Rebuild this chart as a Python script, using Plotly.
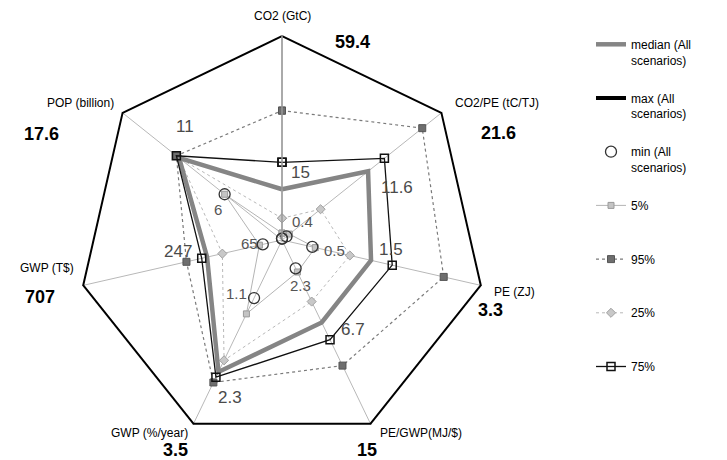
import plotly.graph_objects as go

# ---------------- data ----------------
categories = ["CO2 (GtC)", "CO2/PE (tC/TJ)", "PE (ZJ)", "PE/GWP(MJ/$)",
              "GWP (%/year)", "GWP (T$)", "POP (billion)"]
max_vals = [59.4, 21.6, 3.3, 15, 3.5, 707, 17.6]
median_vals = [14.7, 11.6, 1.47, 6.7, 2.5, 265, 11.3]
min_vals = [0.4, 0.6, 0.5, 2.3, 1.1, 68, 6.3]
p5_vals = [2.0, 1.0, 0.55, 2.6, 1.4, 80, 6.3]
p95_vals = [37.5, 18.9, 2.67, 10.2, 2.7, 338, 11.6]
p25_vals = [6.3, 5.2, 1.12, 5.0, 2.28, 211, 11.3]
p75_vals = [22.5, 13.8, 1.82, 8.1, 2.6, 284, 11.6]

max_labels = ["59.4", "21.6", "3.3", "15", "3.5", "707", "17.6"]
median_labels = ["15", "11.6", "1.5", "6.7", "2.3", "247", "11"]
min_labels = ["0.4", "", "0.5", "2.3", "1.1", "65", "6"]

# ---------------- helpers ----------------
# the page has an 8px body margin: figure is drawn from (8, 8) of the window
OFF = 8
W, H = 727 - OFF, 460 - OFF


def norm(vals):
    r = [v / m for v, m in zip(vals, max_vals)]
    return r + r[:1]


theta = categories + categories[:1]


def P(x, y):
    """window pixel -> paper coords"""
    return (x - OFF) / W, 1 - (y - OFF) / H


fig = go.Figure()

# drawing order (bottom -> top) ; legend order via legendrank
series = [
    dict(name="5%", vals=p5_vals, rank=4, mode="lines+markers",
         line=dict(color="#b4b4b4", width=1),
         marker=dict(symbol="square", size=6, color="#c4c4c4",
                     line=dict(color="#9a9a9a", width=1))),
    dict(name="25%", vals=p25_vals, rank=6, mode="lines+markers",
         line=dict(color="#b8b8b8", width=1, dash="dot"),
         marker=dict(symbol="diamond", size=7, color="#c8c8c8",
                     line=dict(color="#a0a0a0", width=1))),
    dict(name="95%", vals=p95_vals, rank=5, mode="lines+markers",
         line=dict(color="#7a7a7a", width=1.2, dash="dot"),
         marker=dict(symbol="square", size=7, color="#6e6e6e",
                     line=dict(color="#555555", width=1))),
    dict(name="median (All<br>scenarios)", vals=median_vals, rank=1,
         mode="lines", line=dict(color="#858585", width=4.5)),
    dict(name="75%", vals=p75_vals, rank=7, mode="lines+markers",
         line=dict(color="#111111", width=1.3),
         marker=dict(symbol="square-open", size=8, color="#111111",
                     line=dict(width=1.5))),
    dict(name="min (All<br>scenarios)", vals=min_vals, rank=3, mode="markers",
         marker=dict(symbol="circle-open", size=11, color="#333333",
                     line=dict(width=1.3))),
    dict(name="max (All<br>scenarios)", vals=max_vals, rank=2, mode="lines",
         line=dict(color="#000000", width=4)),
]

for s in series:
    name = s["name"] if "<br>" in s["name"] else s["name"] + "<br> "
    kw = dict(r=norm(s["vals"]), theta=theta, mode=s["mode"], name=name,
              legendrank=s["rank"], legendgroup=s["name"], cliponaxis=False,
              line=s.get("line"), hoverinfo="skip")
    if "marker" in s:
        kw["marker"] = s["marker"]
    fig.add_trace(go.Scatterpolar(**kw))

# ---------------- text labels ----------------
ann = []
name_pos = [  # (x, y, xanchor) in window pixels
    (282, 16, "center"), (453, 103, "left"), (492, 292, "left"),
    (378, 433, "left"), (190, 433, "right"), (76, 268, "right"),
    (116, 103, "right")]
for txt, (x, y, xa) in zip(categories, name_pos):
    px, py = P(x, y)
    ann.append(dict(x=px, y=py, xref="paper", yref="paper", text=txt,
                    showarrow=False, xanchor=xa, yanchor="middle",
                    font=dict(size=12, color="#000")))

max_pos = [(352, 42), (498, 133), (490, 310), (367, 450), (175, 450),
           (40, 297), (41, 134)]
for txt, (x, y) in zip(max_labels, max_pos):
    px, py = P(x, y)
    ann.append(dict(x=px, y=py, xref="paper", yref="paper",
                    text="<b>" + txt + "</b>", showarrow=False,
                    xanchor="center", yanchor="middle",
                    font=dict(size=18, color="#000")))

med_pos = [(300, 172), (397, 188), (391, 249), (353, 329), (230, 397),
           (178, 251), (185, 126)]
for txt, (x, y) in zip(median_labels, med_pos):
    px, py = P(x, y)
    ann.append(dict(x=px, y=py, xref="paper", yref="paper", text=txt,
                    showarrow=False, xanchor="center", yanchor="middle",
                    font=dict(size=17, color="#4a4a4a")))

min_pos = [(302, 222), None, (334, 250), (300, 285), (236, 293),
           (249, 243), (218, 209)]
for txt, pos in zip(min_labels, min_pos):
    if pos is None or not txt:
        continue
    px, py = P(*pos)
    ann.append(dict(x=px, y=py, xref="paper", yref="paper", text=txt,
                    showarrow=False, xanchor="center", yanchor="middle",
                    font=dict(size=15, color="#555555")))

cx, cy, R = 282 - OFF, 240 - OFF, 205
lx, ly = P(591, 30)
fig.update_layout(
    width=W, height=H,
    margin=dict(l=0, r=0, t=0, b=0),
    paper_bgcolor="white", plot_bgcolor="white",
    font=dict(family="Liberation Sans, Arial, sans-serif", size=12,
              color="#000"),
    annotations=ann,
    showlegend=True,
    legend=dict(x=lx, y=ly, xanchor="left", yanchor="top",
                valign="top", tracegroupgap=19.5, itemclick=False,
                font=dict(size=12, color="#000"),
                bgcolor="rgba(0,0,0,0)"),
    polar=dict(
        domain=dict(x=[(cx - R) / W, (cx + R) / W],
                    y=[1 - (cy + R) / H, 1 - (cy - R) / H]),
        gridshape="linear",
        bgcolor="white",
        angularaxis=dict(direction="clockwise", rotation=90,
                         categoryorder="array", categoryarray=categories,
                         showticklabels=False, ticks="", showline=False,
                         showgrid=True, gridcolor="#b8b8b8", gridwidth=1),
        radialaxis=dict(range=[0, 1], angle=90, showgrid=False,
                        showticklabels=False, ticks="", showline=True,
                        linecolor="#9a9a9a", linewidth=1.5),
    ),
)

fig.write_html("out.html")
